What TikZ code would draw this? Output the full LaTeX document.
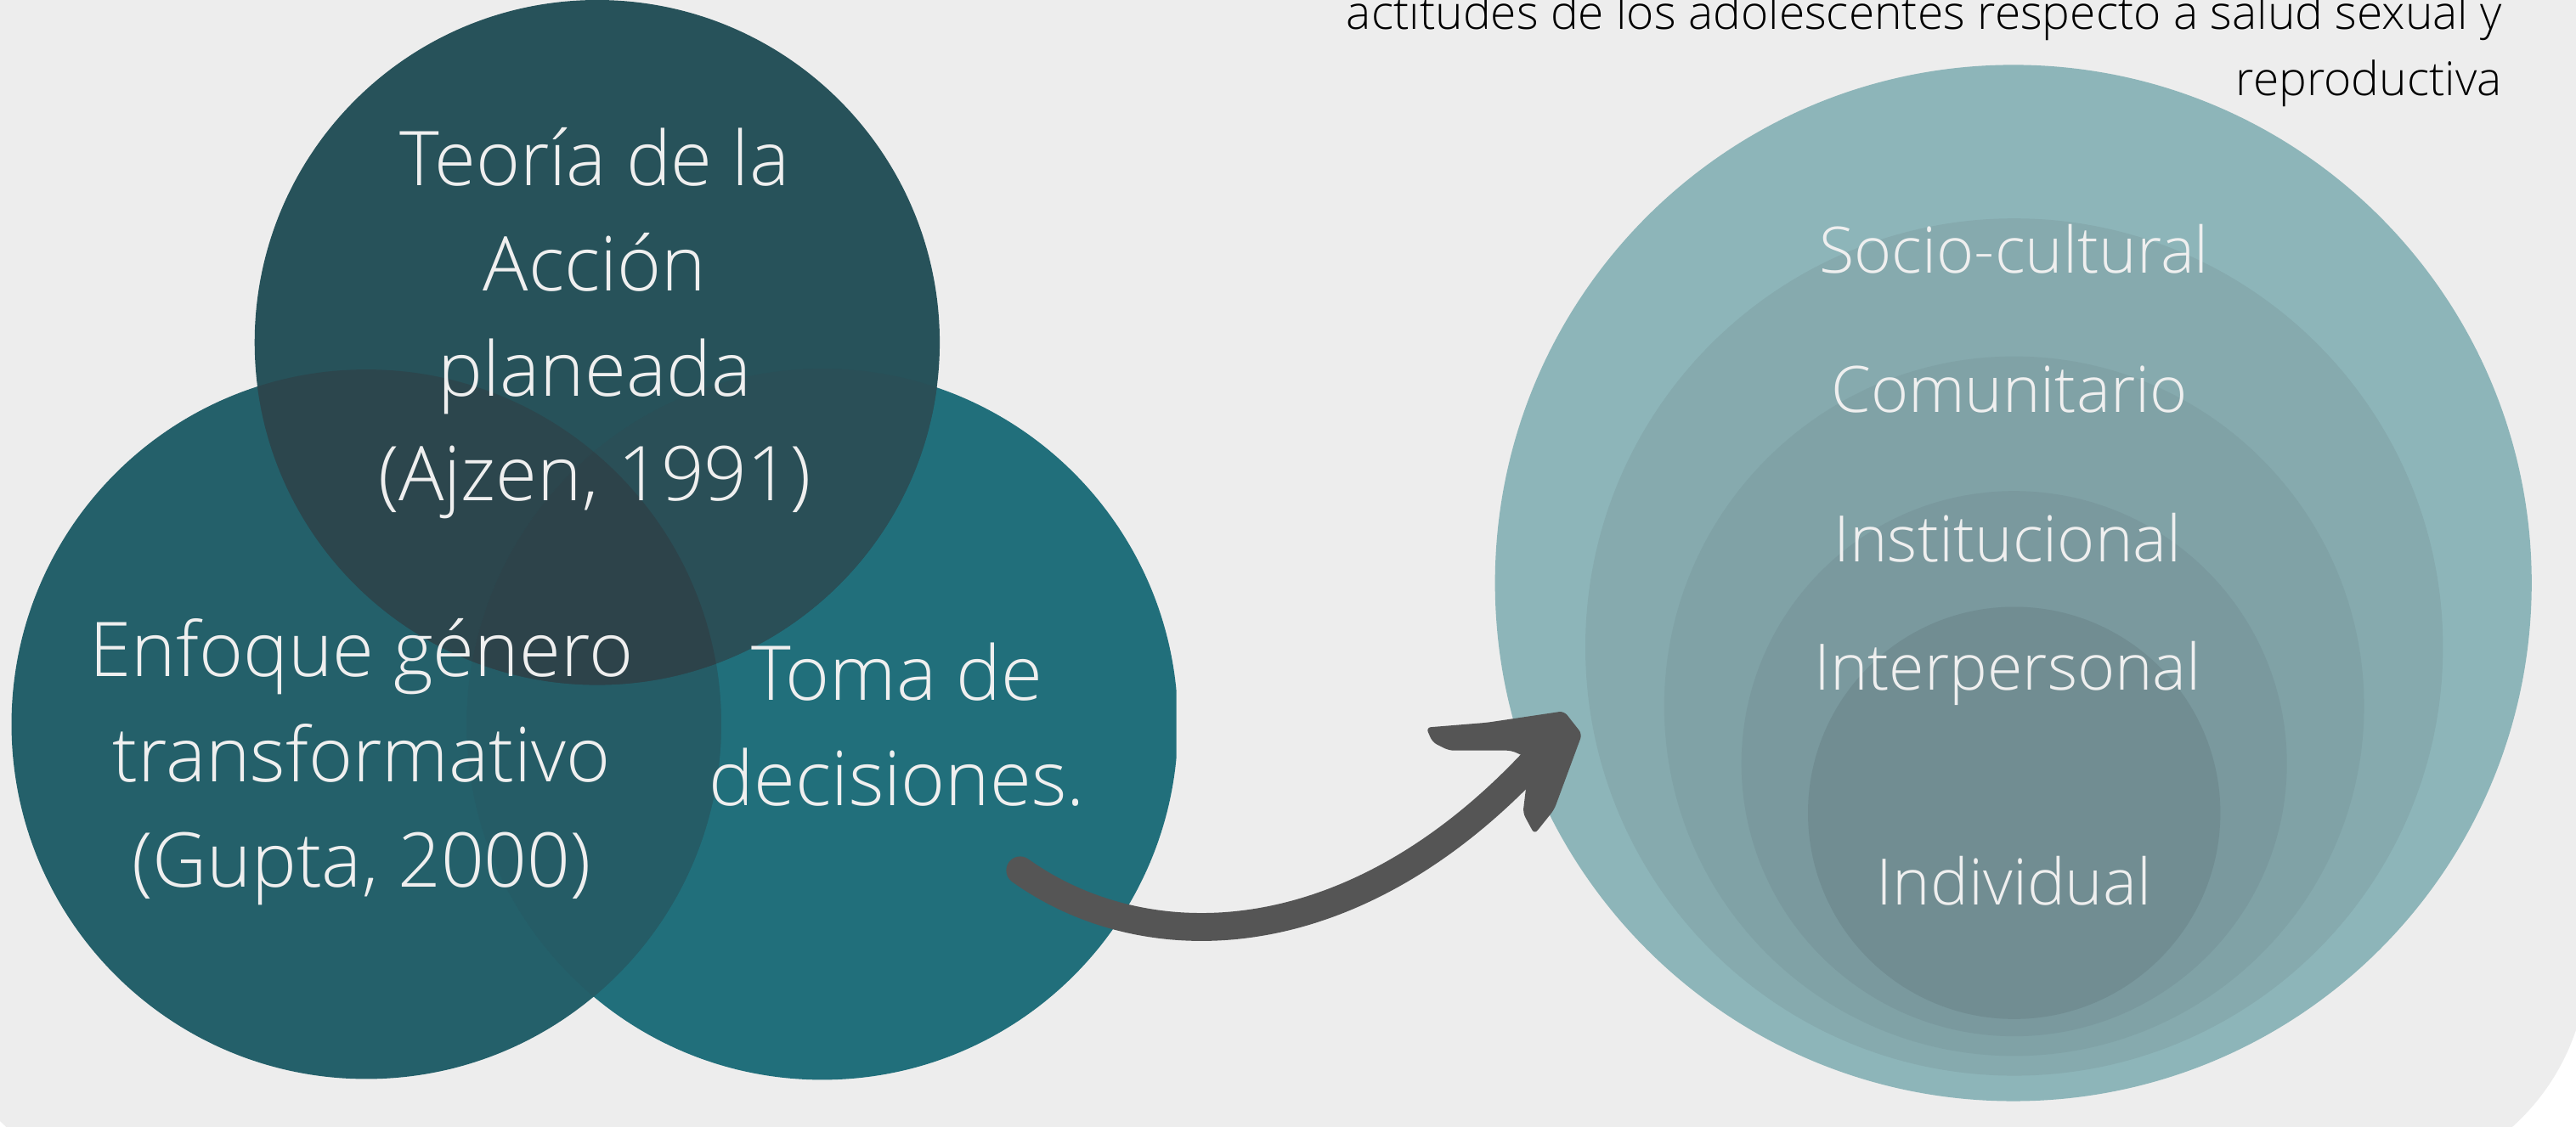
\documentclass[tikz,border=0pt]{standalone}
\usepackage{fontspec}
\setmainfont{Open Sans Light}
\definecolor{bggray}{HTML}{EDEDED}
\definecolor{cR}{HTML}{216F7B}
\definecolor{cL}{HTML}{24606A}
\definecolor{cT}{HTML}{27525A}
\definecolor{cLR}{HTML}{255C66}
\definecolor{cTL}{HTML}{2C464D}
\definecolor{cTR}{HTML}{2A4F57}
\definecolor{cTLR}{HTML}{2D434A}
\definecolor{r1}{HTML}{8DB5B9}
\definecolor{r2}{HTML}{86AAAE}
\definecolor{r3}{HTML}{80A2A6}
\definecolor{r4}{HTML}{7A999E}
\definecolor{r5}{HTML}{718D92}
\definecolor{txt}{HTML}{EFEFEF}
\definecolor{arrowc}{HTML}{555555}
\tikzset{
  venn/.style={circle, inner sep=0pt, minimum size=#1},
  lbl/.style={text=txt, align=center, inner sep=0pt, font=\fontsize{46}{64}\selectfont},
  lvl/.style={text=txt, inner sep=0pt, anchor=base, font=\fontsize{39}{48}\selectfont},
  note/.style={text=black, align=right, inner sep=0pt, font=\fontsize{28.5}{40}\selectfont}
}
\begin{document}
\begin{tikzpicture}[x=1pt,y=-1pt]
\useasboundingbox (0,0) rectangle (1568,686);
\clip (0,0) rectangle (1568,686);
\fill[white] (-10,-10) rectangle (1600,700);
\fill[bggray, rounded corners=138pt] (-42,-300) rectangle (1575,721.5);

% Venn circles
\begin{scope}
  \clip (0,0) rectangle (716,686);
  \node[venn=433pt, fill=cR] (toma) at (500.5,441) {};
\end{scope}
\node[venn=432pt, fill=cL] (enf) at (223,441) {};
\node[venn=417pt, fill=cT] (teo) at (363.5,208.5) {};
\begin{scope}
  \clip (enf.center) circle[radius=216pt];
  \fill[cLR] (toma.center) circle[radius=216.5pt];
\end{scope}
\begin{scope}
  \clip (teo.center) circle[radius=208.5pt];
  \fill[cTL] (enf.center) circle[radius=216pt];
  \fill[cTR] (toma.center) circle[radius=216.5pt];
  \clip (enf.center) circle[radius=216pt];
  \fill[cTLR] (toma.center) circle[radius=216.5pt];
\end{scope}

\node[lbl] (teoT) at (362,197) {Teoría de la\\Acción\\planeada\\(Ajzen, 1991)};
\node[lbl] (enfT) at (220,464) {Enfoque género\\transformativo\\(Gupta, 2000)};
\node[lbl] (tomaT) at (546,441) {Toma de\\decisiones.};

% nested circles
\node[venn=631pt, fill=r1] (c1) at (1225.5,355) {};
\node[venn=522pt, fill=r2] (c2) at (1226,394) {};
\node[venn=426pt, fill=r3] (c3) at (1226,430) {};
\node[venn=332pt, fill=r4] (c4) at (1226,465) {};
\node[venn=251pt, fill=r5] (c5) at (1226,495) {};

\node[lvl] (l1) at (1226,166) {Socio-cultural};
\node[lvl] (l2) at (1223,251) {Comunitario};
\node[lvl] (l3) at (1222,342) {Institucional};
\node[lvl] (l4) at (1222,420) {Interpersonal};
\node[lvl] (l5) at (1226,551) {Individual};

% top-right note
\node[note, anchor=base east] (nt) at (1523,58) {actitudes de los adolescentes respecto a salud sexual y\\reproductiva};

% arrow
\coordinate (aS) at (621,530);
\coordinate (aE) at (934,463);
\draw[arrowc, line width=17pt, line cap=round] (aS) .. controls (695,583) and (820,585) .. (aE);
\fill[arrowc, rounded corners=3pt] (952,433) -- (905,440) -- (868,443) -- (872,452) -- (882,457) -- (920,457) -- (931,462) -- (927,495) -- (934,508) -- (946,493) -- (963,447) -- cycle;
\end{tikzpicture}
\end{document}
